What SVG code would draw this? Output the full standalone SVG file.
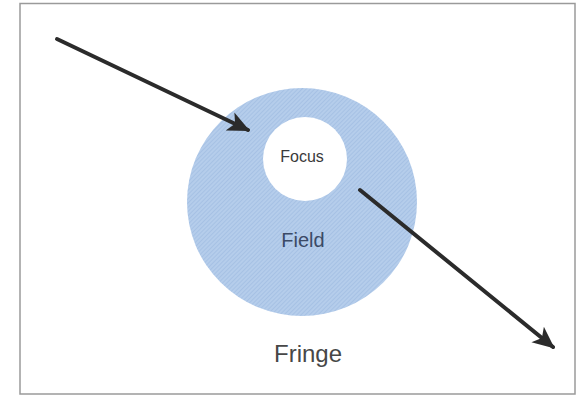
<svg xmlns="http://www.w3.org/2000/svg" width="580" height="397" viewBox="0 0 580 397">
  <style>
    .lbl { font-family: "Liberation Sans", Arial, sans-serif; text-anchor: middle; }
    .arrow { stroke: #2b2b2b; stroke-width: 4; fill: none; stroke-linecap: round; }
  </style>
  <defs>
    <marker id="head" viewBox="0 0 10 10" refX="9" refY="5" markerWidth="5.5" markerHeight="5.5" orient="auto" markerUnits="strokeWidth">
      <path d="M0,0.5 L10,5 L0,9.5 L2.5,5 Z" fill="#2b2b2b"/>
    </marker>
    <pattern id="hatch" width="3" height="3" patternUnits="userSpaceOnUse" patternTransform="rotate(45)">
      <rect width="3" height="3" fill="#b5cdeb"/>
      <rect width="1" height="3" fill="#a6c1e4"/>
    </pattern>
  </defs>
  <rect x="0" y="0" width="580" height="397" fill="#ffffff"/>
  <rect x="20" y="3.5" width="555" height="390.5" fill="none" stroke="#9a9a9a" stroke-width="1.5"/>
  <g id="field">
    <ellipse cx="302" cy="202" rx="115" ry="114" fill="url(#hatch)"/>
    <text class="lbl" x="303" y="247" font-size="20" fill="#3b4a66">Field</text>
  </g>
  <g id="focus">
    <circle cx="305" cy="159" r="42" fill="#ffffff"/>
    <text class="lbl" x="302" y="162" font-size="16" fill="#3a3a3a">Focus</text>
  </g>
  <g id="fringe">
    <text class="lbl" x="308" y="362" font-size="24" fill="#474747">Fringe</text>
  </g>
  <g id="connectors">
    <line class="arrow" x1="57" y1="39" x2="248" y2="130" marker-end="url(#head)"/>
    <line class="arrow" x1="360" y1="190" x2="553" y2="347" marker-end="url(#head)"/>
  </g>
</svg>
